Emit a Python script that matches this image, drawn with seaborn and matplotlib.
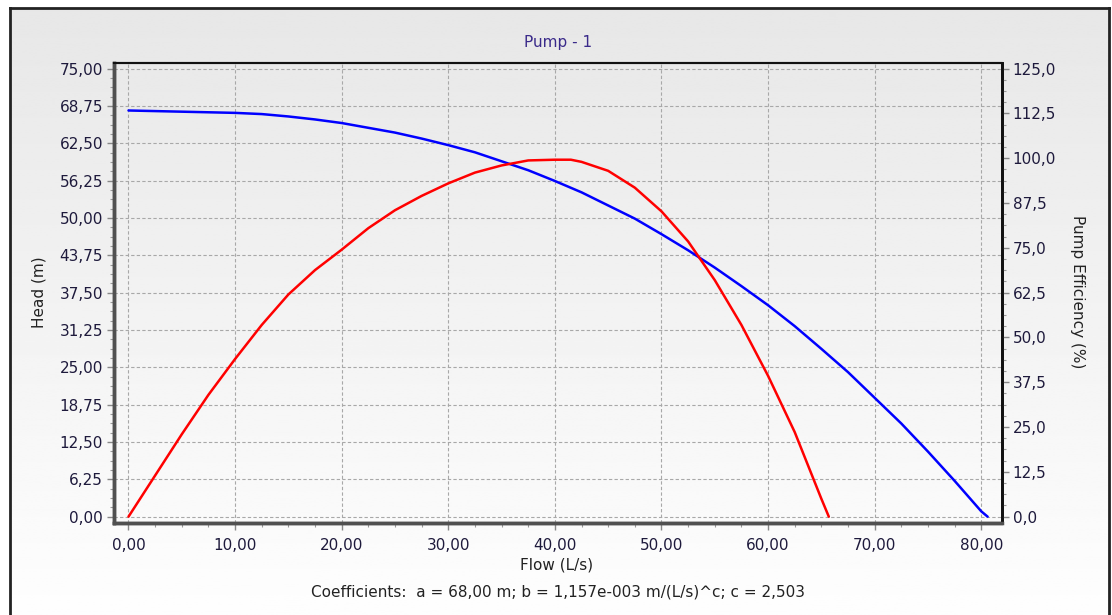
import numpy as np
import seaborn as sns
import matplotlib.pyplot as plt
from matplotlib.ticker import MultipleLocator, FuncFormatter

# Head curve (Flow L/s -> Head m)
flow_head = [0, 5, 10, 12.5, 15, 17.5, 20, 22.5, 25, 27.5, 30, 32.5, 35, 37.5,
             40, 42.5, 45, 47.5, 50, 52.5, 55, 57.5, 60, 62.5, 65, 67.5, 70,
             72.5, 75, 77.5, 80, 80.6]
head = [68.0, 67.8, 67.6, 67.4, 67.0, 66.5, 65.9, 65.1, 64.3, 63.3, 62.2, 61.0,
        59.5, 58.0, 56.2, 54.3, 52.1, 49.9, 47.3, 44.6, 41.7, 38.6, 35.4, 31.9,
        28.1, 24.2, 19.9, 15.6, 10.9, 6.0, 0.9, 0.0]

# Efficiency curve (Flow L/s -> %)
flow_eff = [0, 2.5, 5, 7.5, 10, 12.5, 15, 17.5, 20, 22.5, 25, 27.5, 30, 32.5,
            35, 37.5, 40, 41.5, 42.5, 45, 47.5, 50, 52.5, 55, 57.5, 60, 62.5,
            65, 65.7]
efficiency = [0, 11.5, 23.0, 34.0, 44.0, 53.5, 62.0, 68.8, 74.5, 80.5, 85.5,
              89.5, 93.0, 96.0, 98.0, 99.4, 99.6, 99.6, 99.0, 96.5, 91.8, 85.2,
              76.8, 66.0, 53.5, 39.3, 23.6, 5.0, 0.0]

title = "Pump - 1"
coef_text = "Coefficients:  a = 68,00 m; b = 1,157e-003 m/(L/s)^c; c = 2,503"

sns.set_style("white")
plt.rcParams['font.family'] = ['DejaVu Sans']

W, H = 1112, 615
fig = plt.figure(figsize=(W / 100, H / 100), dpi=100)
fig.patch.set_facecolor('white')

# gradient background panel with dark border
bg = fig.add_axes([10 / W, 0, 1099 / W, 1 - 8 / H], zorder=-5)
shade = np.linspace(0.906, 0.995, 256)
img = np.repeat(shade[:, None], 2, axis=1)
bg.imshow(img, cmap='gray', vmin=0, vmax=1, aspect='auto',
          extent=[0, 1, 0, 1], origin='upper')
bg.set_xticks([])
bg.set_yticks([])
for side in ['left', 'top', 'right']:
    bg.spines[side].set_color('#222222')
    bg.spines[side].set_linewidth(2)
bg.spines['bottom'].set_visible(False)

ax = fig.add_axes([114 / W, 1 - 522.6 / H, 887.5 / W, 459.6 / H])
ax.set_facecolor('none')

sns.lineplot(x=flow_head, y=head, ax=ax, color='#0000ff', linewidth=1.8, zorder=3)
ax.set_xlim(-1.36, 81.9)
ax.set_ylim(-0.99, 75.95)

ax2 = ax.twinx()
sns.lineplot(x=flow_eff, y=efficiency, ax=ax2, color='#ff0000', linewidth=1.8, zorder=3)
ax2.set_ylim(-0.99 * 5 / 3, 75.95 * 5 / 3)

tick_col = '#1e1a3c'
ax.xaxis.set_major_locator(MultipleLocator(10))
ax.xaxis.set_minor_locator(MultipleLocator(2.5))
ax.yaxis.set_major_locator(MultipleLocator(6.25))
ax.yaxis.set_minor_locator(MultipleLocator(1.5625))
ax2.yaxis.set_major_locator(MultipleLocator(12.5))
ax2.yaxis.set_minor_locator(MultipleLocator(3.125))

ax.xaxis.set_major_formatter(FuncFormatter(lambda v, p: f"{v:.2f}".replace('.', ',')))
ax.yaxis.set_major_formatter(FuncFormatter(lambda v, p: f"{v:.2f}".replace('.', ',')))
ax2.yaxis.set_major_formatter(FuncFormatter(lambda v, p: f"{v:.1f}".replace('.', ',')))

for a in (ax, ax2):
    a.tick_params(which='major', length=5, width=1, color='#888888',
                  labelsize=11, labelcolor=tick_col, pad=3)
    a.tick_params(which='minor', length=3, width=0.8, color='#999999')
ax.tick_params(axis='x', which='both', bottom=True, top=False)
ax.tick_params(axis='y', which='both', left=True, right=False)
ax2.tick_params(axis='y', which='both', right=True)
ax.tick_params(axis='x', pad=6)

ax.grid(True, which='major', linestyle=(0, (3, 2)), linewidth=0.8, color='#a8a8a8')
ax.set_axisbelow(True)

for a in (ax, ax2):
    a.spines['left'].set_color('#505050')
    a.spines['left'].set_linewidth(2.5)
    a.spines['bottom'].set_color('#505050')
    a.spines['bottom'].set_linewidth(2.5)
    a.spines['top'].set_color('#111111')
    a.spines['top'].set_linewidth(1.5)
    a.spines['right'].set_color('#111111')
    a.spines['right'].set_linewidth(2)

ax.set_xlabel("")
ax.set_ylabel("")
ax2.set_ylabel("")

fig.text(558 / W, 1 - 43 / H, title, ha='center', va='center',
         fontsize=11, color='#3a2a8a')
fig.text(39 / W, 1 - 292 / H, "Head (m)", ha='center', va='center',
         rotation=90, fontsize=11, color='#222222')
fig.text(1077 / W, 1 - 292 / H, "Pump Efficiency (%)", ha='center', va='center',
         rotation=270, fontsize=11, color='#222222')
fig.text(557 / W, 1 - 565 / H, "Flow (L/s)", ha='center', va='center',
         fontsize=11, color='#222222')
fig.text(558 / W, 1 - 592 / H, coef_text, ha='center', va='center',
         fontsize=11, color='#222222')

plt.savefig('out.png', dpi=100)
plt.close()
